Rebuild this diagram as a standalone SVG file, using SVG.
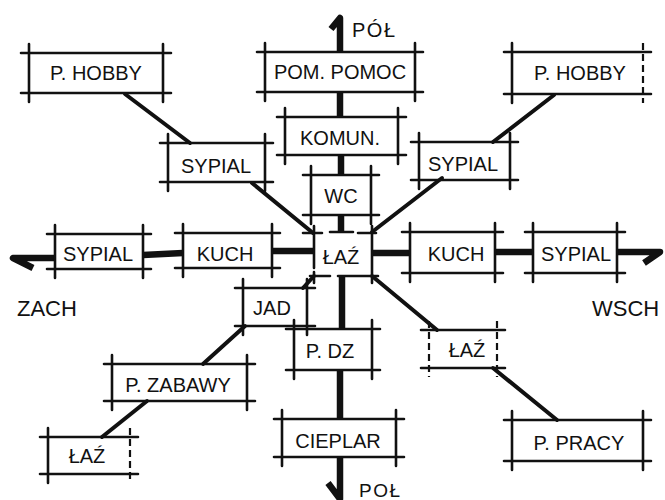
<svg xmlns="http://www.w3.org/2000/svg" width="665" height="500" viewBox="0 0 665 500">
<style>
.b{fill:none;stroke:#111;stroke-width:2.6;stroke-linecap:round}
.d{fill:none;stroke:#111;stroke-width:2.2;stroke-dasharray:7 4}
.c{fill:none;stroke:#111;stroke-width:6.5;stroke-linecap:butt;stroke-linejoin:round}
.g{fill:none;stroke:#111;stroke-width:4;stroke-linecap:round;stroke-linejoin:round}
.t{font-family:"Liberation Sans",Arial,sans-serif;font-size:20px;fill:#111;text-anchor:middle}
.l{font-family:"Liberation Sans",Arial,sans-serif;fill:#111}
</style>
<rect width="665" height="500" fill="#fff"/>
<g id="connectors">
  <path class="c" d="M331,29 L340,18 L340,52" stroke-width="5"/>
  <path class="c" d="M340,92V117"/>
  <path class="c" d="M341,155V175"/>
  <path class="c" d="M341,215V233" stroke-width="6"/>
  <path class="c" d="M342,276V329" stroke-width="6"/>
  <path class="c" d="M340,370V419"/>
  <path class="c" d="M328,483 L340,499 L340,457" stroke-width="5"/>
  <path class="c" d="M33,268 L13,258 H55" stroke-width="5.5"/>
  <path class="c" d="M143,255 L183,253" stroke-width="5.5"/>
  <path class="c" d="M272,251H314"/>
  <path class="c" d="M372,253H410"/>
  <path class="c" d="M495,252H533" stroke-width="6"/>
  <path class="c" d="M617,252H660 L644,263" stroke-width="5.5"/>
  <path class="g" d="M125,94 L190,143" stroke-width="5"/>
  <path class="g" d="M554,95 L493,142" stroke-width="3.8"/>
  <path class="g" d="M252,183 L313,233"/>
  <path class="g" d="M442,178 L372,232"/>
  <path class="g" d="M314,276 L303,288" stroke-width="5"/>
  <path class="g" d="M245,326 L203,364"/>
  <path class="g" d="M147,401 L102,437" stroke-width="4.5"/>
  <path class="g" d="M372,276 L437,330"/>
  <path class="g" d="M493,368 L557,420"/>
</g>
<g id="hobbyL"><path class="b" d="M21,53H171M21,93H171M29,44V102M163,44V102"/><text class="t" x="96" y="80">P. HOBBY</text></g>
<g id="pomoc"><path class="b" d="M257,52H423M257,92H423M265,43V101M415,43V101"/><text class="t" x="340" y="79">POM. POMOC</text></g>
<g id="hobbyR"><path class="b" d="M504,52H651M504,94H651M512,43V103"/><path class="d" d="M643,43V103"/><text class="t" x="580" y="80">P. HOBBY</text></g>
<g id="komun"><path class="b" d="M277,117H406M277,155H406M285,108V164M398,108V164"/><text class="t" x="340" y="145">KOMUN.</text></g>
<g id="sypialUL"><path class="b" d="M160,143H273M160,182H273M168,134V191M265,134V191"/><text class="t" x="216" y="173">SYPIAL</text></g>
<g id="sypialUR"><path class="b" d="M411,142H518M411,180H518M419,133V189M510,133V189"/><text class="t" x="463" y="171">SYPIAL</text></g>
<g id="wc"><path class="b" d="M303,175H379M303,215H379M311,166V224M371,166V224"/><text class="t" x="341" y="203">WC</text></g>
<g id="sypialW"><path class="b" d="M47,234H151M47,269H151M55,225V278M143,225V278"/><text class="t" x="98" y="261">SYPIAL</text></g>
<g id="kuchW"><path class="b" d="M175,233H280M175,268H280M183,224V277M272,224V277"/><text class="t" x="225" y="261">KUCH</text></g>
<g id="lazC"><path class="b" d="M303,233H322M330,232H353M358,233H376M314,226V268M314,272V283M372,226V283M310,276H330M338,276H378"/><text class="t" x="341" y="264">ŁAŹ</text></g>
<g id="kuchE"><path class="b" d="M402,232H503M402,273H503M410,223V282M495,223V282"/><text class="t" x="456" y="261">KUCH</text></g>
<g id="sypialE"><path class="b" d="M525,232H625M525,273H625M533,223V282M617,223V282"/><text class="t" x="576" y="261">SYPIAL</text></g>
<g id="jad"><path class="b" d="M235,288H315M235,326H315M243,279V335M307,279V335"/><text class="t" x="272" y="315">JAD</text></g>
<g id="pdz"><path class="b" d="M286,329H380M286,370H380M294,320V379M372,320V379"/><text class="t" x="330" y="358">P. DZ</text></g>
<g id="lazE"><path class="b" d="M421,330H505M421,368H505"/><path class="d" d="M429,321V377M497,321V377"/><text class="t" x="467" y="357">ŁAŹ</text></g>
<g id="zabawy"><path class="b" d="M104,364H255M104,401H255M112,355V410M247,355V410"/><text class="t" x="178" y="392">P. ZABAWY</text></g>
<g id="cieplar"><path class="b" d="M274,419H404M274,457H404M282,410V466M396,410V466"/><text class="t" x="338" y="448">CIEPLAR</text></g>
<g id="lazSW"><path class="b" d="M40,437H138M40,474H138M48,428V483"/><path class="d" d="M130,428V483"/><text class="t" x="87" y="463">ŁAŹ</text></g>
<g id="pracy"><path class="b" d="M504,420H651M504,461H651M512,411V470M643,411V470"/><text class="t" x="579" y="450">P. PRACY</text></g>
<g id="labels">
  <text class="l" x="352" y="37" font-size="20" letter-spacing="1.5">PÓŁ</text>
  <text class="l" x="359" y="497" font-size="19" letter-spacing="1.5">POŁ</text>
  <text class="l" x="17" y="316" font-size="22">ZACH</text>
  <text class="l" x="592" y="316" font-size="22">WSCH</text>
</g>
</svg>
